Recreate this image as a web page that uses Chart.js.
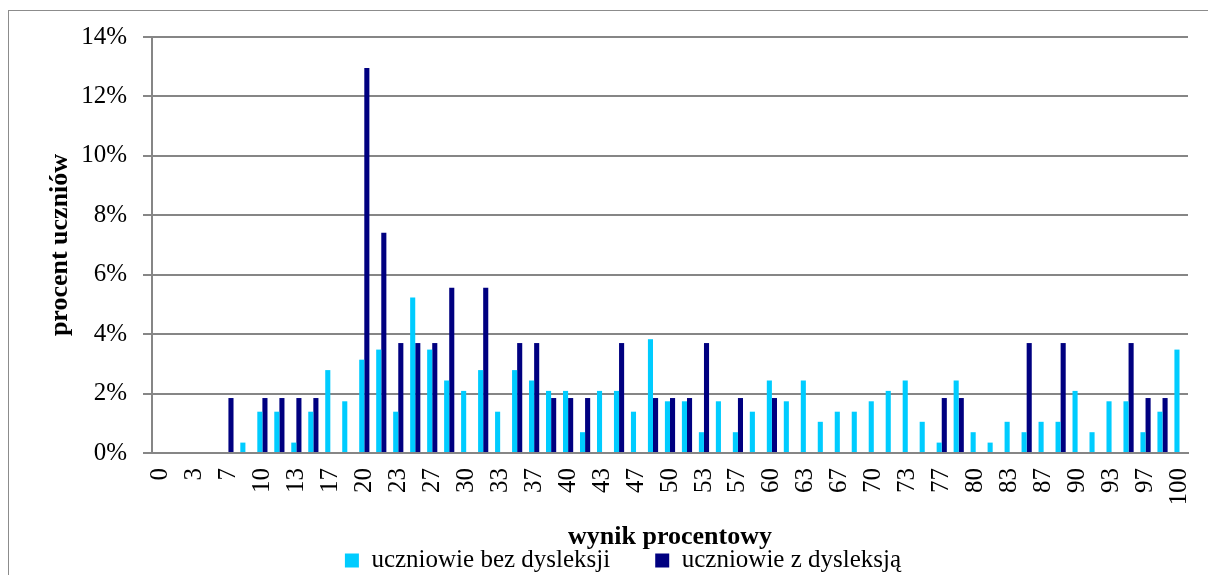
<!DOCTYPE html>
<html>
<head>
<meta charset="utf-8">
<script src="https://cdn.jsdelivr.net/npm/chart.js@4/dist/chart.umd.min.js"></script>
<style>
  html, body { margin: 0; padding: 0; background: #fff; overflow: hidden; }
  #wrap { width: 1208px; height: 583px; }
</style>
</head>
<body>
<div id="wrap"><canvas id="chart" width="1208" height="583"></canvas></div>
<script>
// wynik procentowy: 61 categories (0..60 points), labels rounded to whole percent
const categories = [
  '0', '2', '3', '5', '7', '8', '10', '12', '13', '15',
  '17', '18', '20', '22', '23', '25', '27', '28', '30', '32',
  '33', '35', '37', '38', '40', '42', '43', '45', '47', '48',
  '50', '52', '53', '55', '57', '58', '60', '62', '63', '65',
  '67', '68', '70', '72', '73', '75', '77', '78', '80', '82',
  '83', '85', '87', '88', '90', '92', '93', '95', '97', '98',
  '100'
];

// procent uczniów (%)
const bezDysleksji = [
  0, 0, 0, 0, 0, 0.35, 1.39, 1.39, 0.35, 1.39,
  2.79, 1.74, 3.14, 3.48, 1.39, 5.23, 3.48, 2.44, 2.09, 2.79,
  1.39, 2.79, 2.44, 2.09, 2.09, 0.70, 2.09, 2.09, 1.39, 3.83,
  1.74, 1.74, 0.70, 1.74, 0.70, 1.39, 2.44, 1.74, 2.44, 1.05,
  1.39, 1.39, 1.74, 2.09, 2.44, 1.05, 0.35, 2.44, 0.70, 0.35,
  1.05, 0.70, 1.05, 1.05, 2.09, 0.70, 1.74, 1.74, 0.70, 1.39,
  3.48
];

const zDysleksja = [
  0, 0, 0, 0, 1.85, 0, 1.85, 1.85, 1.85, 1.85,
  0, 0, 12.96, 7.41, 3.70, 3.70, 3.70, 5.56, 0, 5.56,
  0, 3.70, 3.70, 1.85, 1.85, 1.85, 0, 3.70, 0, 1.85,
  1.85, 1.85, 3.70, 0, 1.85, 0, 1.85, 0, 0, 0,
  0, 0, 0, 0, 0, 0, 1.85, 1.85, 0, 0,
  0, 3.70, 0, 3.70, 0, 0, 0, 3.70, 1.85, 1.85,
  0
];

const seriesNames = ['uczniowie bez dysleksji', 'uczniowie z dysleksją'];
const yTicks = [0, 2, 4, 6, 8, 10, 12, 14];

const gridGray = '#868686';
const serif = 'Liberation Serif';

Chart.defaults.font.family = serif;
Chart.defaults.color = '#000';

// thin frame around the whole chart (runs off the right and bottom edges like the original)
const frame = {
  id: 'frame',
  beforeDraw(chart) {
    const ctx = chart.ctx;
    ctx.save();
    ctx.fillStyle = '#fff';
    ctx.fillRect(0, 0, chart.width, chart.height);
    ctx.strokeStyle = '#8c8c8c';
    ctx.lineWidth = 1;
    ctx.strokeRect(8.5, 10.5, 1400, 800);
    ctx.restore();
  }
};

new Chart(document.getElementById('chart'), {
  type: 'bar',
  data: {
    labels: categories,
    datasets: [{
      label: seriesNames[0],
      data: bezDysleksji,
      backgroundColor: '#00CCFF',
      borderWidth: 0
    }, {
      label: seriesNames[1],
      data: zDysleksja,
      backgroundColor: '#000080',
      borderWidth: 0
    }]
  },
  options: {
    responsive: false,
    animation: false,
    datasets: {
      bar: { barPercentage: 1, categoryPercentage: 0.6 }
    },
    layout: {
      padding: { left: 40, top: 37, right: 2, bottom: 0 }
    },
    scales: {
      x: {
        afterFit(scale) {
          scale.height = 50;
          // keep the plot running to x=1188 instead of leaving room for the rotated "100"
          scale.paddingLeft = 0;
          scale.paddingRight = 20;
        },
        grid: { display: false, drawTicks: false },
        border: { display: true, color: gridGray, width: 2 },
        ticks: {
          autoSkip: false,
          minRotation: 90,
          maxRotation: 90,
          padding: 15,
          font: { size: 25 },
          callback: (value, index) => index % 2 === 0 ? categories[index] : ''
        },
        title: {
          display: true,
          text: 'wynik procentowy',
          font: { size: 26, weight: 'bold' },
          padding: { top: 0, bottom: -50 }
        }
      },
      y: {
        afterFit(scale) { scale.width = 112; },
        min: 0,
        max: 14,
        afterBuildTicks(scale) {
          scale.ticks = yTicks.map(v => ({ value: v }));
        },
        grid: {
          color: gridGray,
          lineWidth: 2,
          tickLength: 9
        },
        border: { display: true, color: gridGray, width: 2 },
        ticks: {
          padding: 16,
          font: { size: 25 },
          callback: value => value + '%'
        },
        title: {
          display: true,
          text: 'procent uczniów',
          font: { size: 26, weight: 'bold' },
          padding: { top: 5, bottom: 0 }
        }
      }
    },
    plugins: {
      tooltip: { enabled: false },
      legend: {
        position: 'bottom',
        labels: {
          boxWidth: 14,
          boxHeight: 14,
          padding: 45,
          font: { size: 25 }
        }
      }
    }
  },
  plugins: [frame]
});
</script>
</body>
</html>
